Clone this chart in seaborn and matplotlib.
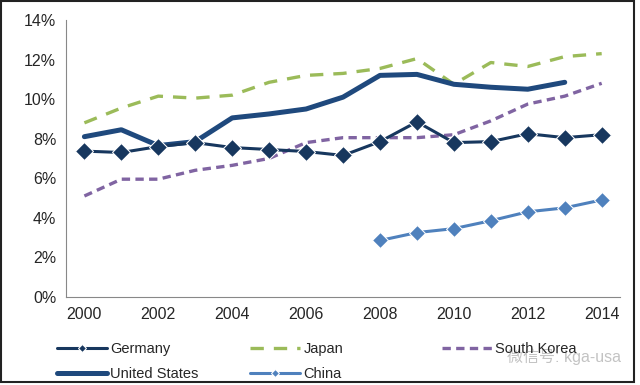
import matplotlib.pyplot as plt
import pandas as pd
import seaborn as sns
from matplotlib.ticker import FixedLocator, FuncFormatter

years = list(range(2000, 2015))
germany = [7.37, 7.3, 7.6, 7.8, 7.55, 7.45, 7.35, 7.15, 7.85, 8.85, 7.8, 7.85, 8.25, 8.05, 8.2]
united_states = [8.1, 8.45, 7.65, 7.85, 9.05, 9.25, 9.5, 10.1, 11.2, 11.25, 10.75, 10.6, 10.5, 10.85, None]
japan = [8.8, 9.55, 10.15, 10.05, 10.2, 10.85, 11.2, 11.3, 11.55, 12.05, 10.75, 11.85, 11.65, 12.15, 12.3]
south_korea = [5.1, 5.95, 5.95, 6.4, 6.65, 7.0, 7.8, 8.05, 8.05, 8.05, 8.2, 8.9, 9.75, 10.15, 10.8]
china = [None] * 8 + [2.85, 3.25, 3.45, 3.85, 4.3, 4.5, 4.9]

df = pd.DataFrame({
    'year': years,
    'Germany': germany,
    'United States': united_states,
    'Japan': japan,
    'South Korea': south_korea,
    'China': china,
})

sns.set_style('white')
plt.rcParams['font.family'] = ['Liberation Sans', 'Noto Sans CJK SC', 'DejaVu Sans']

fig = plt.figure(figsize=(6.4, 3.85), dpi=100)
ax = fig.add_axes([0.103, 0.229, 0.866, 0.719])

styles = {
    'Japan': dict(color='#9BBB59', lw=2.4, dashes=(4, 3)),
    'South Korea': dict(color='#8064A2', lw=2.4, dashes=(2.5, 1.6)),
    'United States': dict(color='#1F497D', lw=3.6),
    'Germany': dict(color='#17375E', lw=2.2, marker='D', markersize=9),
    'China': dict(color='#4F81BD', lw=2.2, marker='D', markersize=8),
}
handles = {}
for name in ['Japan', 'South Korea', 'United States', 'Germany', 'China']:
    sub = df[['year', name]].dropna()
    sns.lineplot(data=sub, x='year', y=name, ax=ax, label=name, **styles[name])
    handles[name] = ax.get_lines()[-1]
ax.get_legend().remove()

ax.set_xlim(1999.5, 2014.5)
ax.set_ylim(0, 14)
ax.set_xlabel('')
ax.set_ylabel('')
ax.xaxis.set_major_locator(FixedLocator([y - 0.5 for y in years] + [2014.5]))
ax.xaxis.set_major_formatter(FuncFormatter(lambda v, p: ''))
ax.xaxis.set_minor_locator(FixedLocator(years[::2]))
ax.xaxis.set_minor_formatter(FuncFormatter(lambda v, p: f'{int(round(v))}'))
ax.tick_params(axis='x', which='major', length=4, width=0.8, color='#888888', direction='out')
ax.tick_params(axis='x', which='minor', length=0, labelsize=11.5, pad=7)
ax.set_yticks(range(0, 15, 2))
ax.yaxis.set_major_formatter(FuncFormatter(lambda v, p: f'{int(v)}%'))
ax.tick_params(axis='y', length=4, width=0.8, color='#888888', direction='out', labelsize=11.5, pad=3)
for s in ['top', 'right']:
    ax.spines[s].set_visible(False)
for s in ['left', 'bottom']:
    ax.spines[s].set_color('#888888')
    ax.spines[s].set_linewidth(0.8)

# one legend per column, like the Excel legend grid
columns = [(['Germany', 'United States'], 0.089),
           (['Japan', 'China'], 0.391),
           (['South Korea'], 0.691)]
for names, x0 in columns:
    fig.legend([handles[n] for n in names], names, loc='upper left',
               bbox_to_anchor=(x0, 0.112), frameon=False, fontsize=10.5,
               handlelength=3.4, labelspacing=0.75, handletextpad=0.25,
               borderaxespad=0, borderpad=0, markerscale=0.45)

fig.text(0.792, 0.073, '微信号: kga-usa', fontsize=11.5, color='#aaaaaa',
         alpha=0.7, va='center')

fig.patches.append(plt.Rectangle((0.002, 0.008), 0.988, 0.989, transform=fig.transFigure,
                                 fill=False, edgecolor='#222222', lw=1.5))

fig.savefig('out.png', dpi=100)
